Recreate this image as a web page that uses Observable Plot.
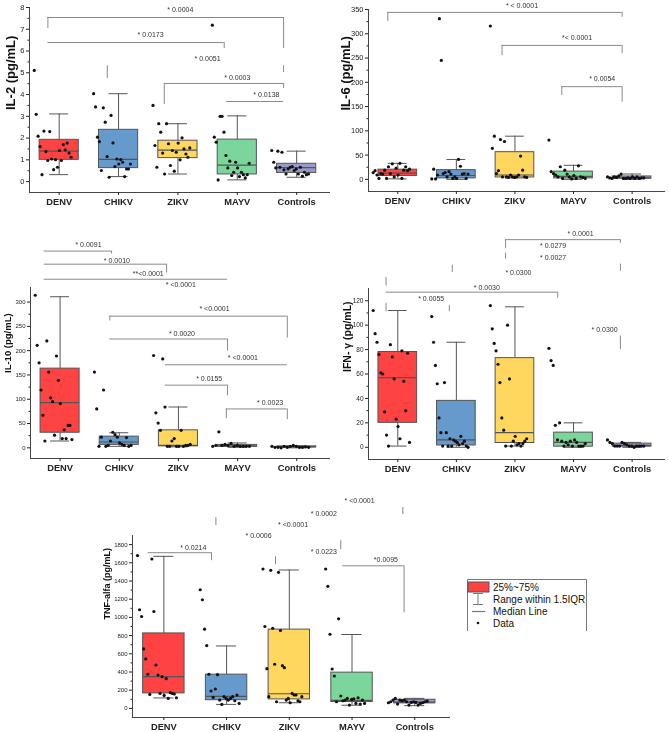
<!DOCTYPE html>
<html>
<head>
<meta charset="utf-8">
<script src="https://cdn.jsdelivr.net/npm/d3@7"></script>
<script src="https://cdn.jsdelivr.net/npm/@observablehq/plot@0.6"></script>
<style>
  html, body { margin: 0; padding: 0; background: #fff; }
  #fig { position: relative; width: 669px; height: 732px; overflow: hidden; font-family: "Liberation Sans", Arial, sans-serif; }
  .panel { position: absolute; will-change: transform; }
  .panel svg { overflow: visible; }
</style>
</head>
<body>
<div id="fig"></div>
<script>
// Groups and their box colours
const groups = ["DENV", "CHIKV", "ZIKV", "MAYV", "Controls"];
const groupFills = ["#ff4242", "#6699cc", "#ffd65e", "#7bd69b", "#9b9bc9"];

// ---------- IL-2 (pg/mL) ----------
const il2Values = [
  [5.11, 3.09, 2.09, 1.61, 0.32, 2.32, 1.38, 0.97, 2.30, 1.04, 0.55, 1.01, 0.66, 1.43, 0.97, 1.70, 1.46, 1.77, 1.31, 1.12],
  [4.04, 3.43, 2.04, 1.84, 0.51, 3.39, 2.73, 1.15, 0.20, 3.04, 1.78, 0.69, 1.04, 0.81, 1.01, 0.89, 0.23, 0.58, 0.58, 0.81],
  [3.50, 1.66, 0.66, 2.66, 2.27, 1.31, 0.35, 2.66, 1.74, 0.74, 1.43, 0.48, 1.35, 1.77, 1.00, 2.01, 1.50, 1.27, 1.12, 1.55],
  [7.19, 2.04, 1.81, 0.08, 3.00, 3.00, 2.27, 1.20, 0.63, 0.94, 0.28, 0.43, 0.89, 0.63, 0.23, 0.43, 0.32, 0.17, 0.32, 0.84],
  [1.43, 0.89, 0.63, 1.40, 0.66, 1.35, 0.54, 0.35, 0.58, 0.66, 0.69, 0.51, 0.58, 0.35, 0.66, 0.25, 0.43, 0.32, 0.35]
];
const il2Low    = [0.32, 0.23, 0.35, 0.08, 0.20];
const il2Q1     = [1.00, 0.62, 1.08, 0.33, 0.40];
const il2Median = [1.40, 1.02, 1.45, 0.76, 0.64];
const il2Q3     = [1.92, 2.38, 1.88, 1.93, 0.82];
const il2High   = [3.11, 4.04, 2.66, 3.02, 1.40];
const il2Ticks = [0, 1, 2, 3, 4, 5, 6, 7, 8];
const il2Labels = [
  {text: "* 0.0004", x: 2.04, y: 7.9},
  {text: "* 0.0173", x: 1.54, y: 6.76},
  {text: "* 0.0051", x: 2.5, y: 5.66},
  {text: "* 0.0003", x: 3.0, y: 4.78},
  {text: "* 0.0138", x: 3.49, y: 4.0}
];
const il2Spans = [
  {x1: -0.19, x2: 3.78, y: 7.54},
  {x1: -0.19, x2: 2.78, y: 6.39},
  {x1: 1.77, x2: 3.78, y: 4.51},
  {x1: 2.82, x2: 3.78, y: 3.68}
];
const il2Legs = [
  {x: -0.19, y1: 7.54, y2: 7.03},
  {x: 3.78, y1: 7.54, y2: 6.11},
  {x: 2.78, y1: 6.39, y2: 6.11},
  {x: 0.81, y1: 5.33, y2: 4.74},
  {x: 3.78, y1: 5.33, y2: 5.01},
  {x: 1.77, y1: 4.51, y2: 3.54},
  {x: 3.78, y1: 4.51, y2: 4.28}
];

// ---------- IL-6 (pg/mL) ----------
const il6Values = [
  [14, 18, 9, 2, 12, 11, 19, 2, 26, 12, 32, 5, 23, 9, 33, 2, 19, 26, 18, 21],
  [1, 21, 1, 9, 331, 245, 12, 14, 5, 16, 11, 2, 5, 2, 41, 27, 11, 12, 2, 11],
  [316, 64, 89, 12, 18, 82, 5, 78, 5, 4, 9, 5, 4, 5, 9, 48, 19, 5, 4],
  [81, 16, 12, 9, 5, 26, 2, 19, 11, 5, 1, 8, 2, 28, 5, 4, 2],
  [5, 3, 2, 5, 4, 7, 11, 2, 2, 3, 2, 5, 2, 5, 2, 3, 3]
];
const il6Low    = [1, 0, 3, 0, 0];
const il6Q1     = [7, 2, 4, 2, 1.5];
const il6Median = [13, 8, 9, 6, 3];
const il6Q3     = [20, 19, 56, 16, 6];
const il6High   = [33, 41, 89, 29, 11];
const il6Ticks = [0, 50, 100, 150, 200, 250, 300, 350];
const il6Labels = [
  {text: "* < 0.0001", x: 2.12, y: 358},
  {text: "*< 0.0001", x: 3.06, y: 292},
  {text: "* 0.0054", x: 3.49, y: 208}
];
const il6Spans = [
  {x1: -0.17, x2: 3.83, y: 344},
  {x1: 1.78, x2: 3.83, y: 276},
  {x1: 2.80, x2: 3.83, y: 191}
];
const il6Legs = [
  {x: -0.17, y1: 344, y2: 325},
  {x: 3.83, y1: 344, y2: 334},
  {x: 1.78, y1: 276, y2: 255},
  {x: 3.83, y1: 276, y2: 259},
  {x: 2.80, y1: 191, y2: 173},
  {x: 3.83, y1: 191, y2: 159}
];

// ---------- IL-10 (pg/mL) ----------
const il10Values = [
  [314, 211, 175, 119, 67, 14, 220, 156, 103, 95, 26, 189, 139, 91, 19, 37, 19, 46, 46, 17],
  [156, 80, 3, 22, 119, 3, 5, 14, 32, 27, 22, 10, 7, 5, 21, 3, 5],
  [190, 72, 51, 36, 183, 84, 3, 3, 14, 19, 3, 3, 36, 3, 5, 5, 7],
  [3, 5, 33, 5, 7, 5, 9, 3, 5, 3, 3, 3, 3],
  [3, 1, 1, 0, 3, 1, 3, 5, 3, 1, 1, 2, 1]
];
const il10Low    = [14, 3, 2, 1, 0];
const il10Q1     = [31, 6, 3, 2, 1];
const il10Median = [93, 12, 5, 4, 2];
const il10Q3     = [163, 23, 36, 6, 3];
const il10High   = [311, 31, 84, 10, 4];
const il10Ticks = [0, 50, 100, 150, 200, 250, 300];
const il10Labels = [
  {text: "* 0.0091", x: 0.48, y: 417},
  {text: "* 0.0010", x: 0.96, y: 386},
  {text: "**<0.0001", x: 1.49, y: 358},
  {text: "* <0.0001", x: 2.04, y: 335},
  {text: "* <0.0001", x: 2.61, y: 286},
  {text: "* 0.0020", x: 2.06, y: 234},
  {text: "* <0.0001", x: 3.09, y: 185},
  {text: "* 0.0155", x: 2.52, y: 142},
  {text: "* 0.0023", x: 3.55, y: 92}
];
const il10Spans = [
  {x1: -0.27, x2: 0.87, y: 405},
  {x1: -0.27, x2: 1.80, y: 378},
  {x1: -0.27, x2: 2.83, y: 347},
  {x1: 0.84, x2: 3.84, y: 271},
  {x1: 0.84, x2: 2.83, y: 224},
  {x1: 1.78, x2: 3.84, y: 171},
  {x1: 1.78, x2: 2.83, y: 129},
  {x1: 2.81, x2: 3.84, y: 80}
];
const il10Legs = [
  {x: 0.87, y1: 405, y2: 399},
  {x: 1.80, y1: 378, y2: 360},
  {x: 0.84, y1: 271, y2: 261},
  {x: 3.84, y1: 271, y2: 226},
  {x: 2.83, y1: 224, y2: 199},
  {x: 2.83, y1: 129, y2: 107},
  {x: 2.81, y1: 80, y2: 60},
  {x: 3.84, y1: 80, y2: 58}
];

// ---------- IFN-γ (pg/mL) ----------
const ifnValues = [
  [112, 93, 86, 76, 61, 60, 29, 10, 1, 84, 74, 56, 23, 17, 7, 79, 54, 30, 77, 4],
  [107, 86, 67, 52, 24, 12, 1, 53, 12, 1, 7, 1, 6, 5, 4, 2, 9, 3, 5, 1, 0],
  [116, 97, 85, 79, 68, 53, 24, 14, 1, 100, 56, 1, 5, 9, 2, 3, 1, 3, 5, 7],
  [81, 71, 67, 18, 6, 20, 5, 1, 4, 2, 5, 1, 6, 4, 1, 1, 1, 3],
  [6, 4, 3, 1, 1, 1, 4, 3, 2, 1, 1, 0, 1, 1, 1, 1]
];
const ifnLow    = [1, 0, 1, 0, 0];
const ifnQ1     = [20, 1.5, 3.5, 0.5, 0.5];
const ifnMedian = [57, 6, 12, 4, 1.5];
const ifnQ3     = [78, 38, 73, 12, 3];
const ifnHigh   = [112, 86, 115, 20, 4];
const ifnTicks = [0, 20, 40, 60, 80, 100, 120];
const ifnLabels = [
  {text: "* 0.0001", x: 3.12, y: 175},
  {text: "* 0.0279", x: 2.65, y: 165},
  {text: "* 0.0027", x: 2.65, y: 155},
  {text: "* 0.0300", x: 2.06, y: 143},
  {text: "* 0.0030", x: 1.52, y: 131},
  {text: "* 0.0055", x: 0.57, y: 122},
  {text: "* 0.0300", x: 3.53, y: 96}
];
const ifnSpans = [
  {x1: 1.84, x2: 3.80, y: 170},
  {x1: -0.20, x2: 2.73, y: 127}
];
const ifnLegs = [
  {x: 1.84, y1: 170, y2: 163},
  {x: 3.80, y1: 170, y2: 167},
  {x: 1.84, y1: 159, y2: 154},
  {x: 0.93, y1: 149, y2: 143},
  {x: 3.80, y1: 150, y2: 144},
  {x: -0.20, y1: 139, y2: 132},
  {x: 2.73, y1: 127, y2: 122},
  {x: -0.20, y1: 118, y2: 111},
  {x: 0.88, y1: 116, y2: 111},
  {x: 3.80, y1: 91, y2: 80}
];

// ---------- TNF-alfa (pg/mL) ----------
const tnfValues = [
  [1679, 1084, 1010, 654, 544, 375, 154, 1642, 1065, 477, 367, 165, 349, 143, 327, 110, 173, 165, 158, 117],
  [1304, 1194, 871, 690, 375, 191, 121, 213, 371, 92, 44, 129, 110, 92, 110, 129, 84, 147, 55],
  [1532, 900, 437, 129, 1517, 881, 485, 73, 1495, 856, 470, 448, 92, 110, 62, 165, 147, 147, 84, 73, 129],
  [1532, 1341, 815, 433, 356, 73, 984, 136, 84, 92, 110, 37, 99, 106, 55, 117, 48, 92, 55],
  [62, 73, 92, 110, 48, 92, 84, 92, 73, 37, 66, 73, 66, 37, 55, 62, 73, 81]
];
const tnfLow    = [115, 44, 62, 35, 30];
const tnfQ1     = [165, 90, 99, 70, 55];
const tnfMedian = [349, 132, 161, 88, 70];
const tnfQ3     = [824, 371, 866, 393, 95];
const tnfHigh   = [1671, 686, 1521, 812, 110];
const tnfTicks = [0, 200, 400, 600, 800, 1000, 1200, 1400, 1600, 1800];
const tnfLabels = [
  {text: "* <0.0001", x: 3.12, y: 2285},
  {text: "* 0.0002", x: 2.55, y: 2141},
  {text: "* <0.0001", x: 2.06, y: 2020},
  {text: "* 0.0006", x: 1.51, y: 1898},
  {text: "* 0.0214", x: 0.47, y: 1766},
  {text: "* 0.0223", x: 2.55, y: 1722},
  {text: "*0.0095", x: 3.54, y: 1634}
];
const tnfSpans = [
  {x1: -0.25, x2: 0.76, y: 1711},
  {x1: 2.85, x2: 3.83, y: 1567}
];
const tnfLegs = [
  {x: 3.81, y1: 2208, y2: 2130},
  {x: 0.83, y1: 2097, y2: 2009},
  {x: 0.76, y1: 1711, y2: 1623},
  {x: 1.78, y1: 1667, y2: 1578},
  {x: 2.82, y1: 1843, y2: 1744},
  {x: 3.83, y1: 1567, y2: 1049}
];

// Draws one box-plot panel with jittered points and significance brackets
function boxPanel(cfg) {
  const hw = 0.33;   // half box width (category units)
  const cw = 0.16;   // half whisker-cap width
  const boxes = groups.map((name, g) => ({
    g, name, fill: groupFills[g],
    low: cfg.low[g], q1: cfg.q1[g], median: cfg.median[g], q3: cfg.q3[g], high: cfg.high[g]
  }));
  // points spread left-to-right across the category in listed order
  const points = cfg.values.flatMap((vals, g) =>
    vals.map((v, k) => ({g, v, jx: g - 0.42 + 0.62 * k / (vals.length - 1)})));
  const [y0, y1] = cfg.yDomain;
  const minorTicks = cfg.ticks.slice(0, -1).map((t, i) => (t + cfg.ticks[i + 1]) / 2);
  const gray = "#8a8a8a";

  const svg = Plot.plot({
    width: cfg.width,
    height: cfg.height,
    marginLeft: cfg.marginLeft,
    marginRight: cfg.marginRight,
    marginTop: cfg.marginTop,
    marginBottom: cfg.marginBottom,
    x: {domain: [-0.5, 4.57]},
    y: {domain: cfg.yDomain},
    color: {type: "identity"},
    style: {fontFamily: '"Liberation Sans", Arial, sans-serif', background: "transparent", color: "#222", overflow: "visible"},
    marks: [
      // whiskers and caps
      Plot.ruleX(boxes, {x: "g", y1: "q3", y2: "high", stroke: "#555"}),
      Plot.ruleX(boxes, {x: "g", y1: "low", y2: "q1", stroke: "#555"}),
      Plot.ruleY(boxes, {x1: d => d.g - cw, x2: d => d.g + cw, y: "high", stroke: "#555"}),
      Plot.ruleY(boxes, {x1: d => d.g - cw, x2: d => d.g + cw, y: "low", stroke: "#555"}),
      // interquartile boxes
      Plot.rect(boxes, {x1: d => d.g - hw, x2: d => d.g + hw, y1: "q1", y2: "q3", fill: "fill", stroke: "#555", strokeWidth: 1}),
      Plot.ruleY(boxes, {x1: d => d.g - hw, x2: d => d.g + hw, y: "median", stroke: "#555", strokeWidth: 1.2}),
      // raw data
      Plot.dot(points, {x: "jx", y: "v", r: 1.6, fill: "#111", stroke: "none"}),
      // axes
      Plot.ruleY([y0], {stroke: "#444"}),
      Plot.ruleX([-0.5], {y1: y0, y2: y1, stroke: "#444"}),
      Plot.axisY({ticks: cfg.ticks, tickFormat: d => String(d), tickSize: 3, tickPadding: 2, fontSize: cfg.tickFont, label: null}),
      Plot.axisY({ticks: minorTicks, tickSize: 1.5, tickFormat: () => "", label: null}),
      Plot.axisX({ticks: [0, 1, 2, 3, 4], tickFormat: i => groups[i], tickSize: 3, tickPadding: 3,
                  fontSize: 9.3, fontWeight: "bold", label: null}),
      Plot.text([cfg.title], {frameAnchor: "left", rotate: -90, dx: cfg.titleX - cfg.marginLeft, dy: cfg.titleDy,
                              fontSize: cfg.titleFont, fontWeight: "bold", fill: "#111"}),
      // significance brackets
      Plot.ruleY(cfg.spans, {x1: "x1", x2: "x2", y: "y", stroke: gray}),
      Plot.ruleX(cfg.legs, {x: "x", y1: "y1", y2: "y2", stroke: gray}),
      Plot.text(cfg.labels, {x: "x", y: "y", text: "text", fontSize: 7, fill: "#333"})
    ]
  });
  const div = document.createElement("div");
  div.className = "panel";
  div.style.left = cfg.left + "px";
  div.style.top = cfg.top + "px";
  div.appendChild(svg);
  document.getElementById("fig").appendChild(div);
}

boxPanel({
  title: "IL-2 (pg/mL)", values: il2Values, low: il2Low, q1: il2Q1, median: il2Median, q3: il2Q3, high: il2High,
  ticks: il2Ticks, labels: il2Labels, spans: il2Spans, legs: il2Legs,
  yDomain: [-0.5, 8], left: 0, top: 0, width: 335, height: 215,
  marginLeft: 29, marginRight: 5, marginTop: 7, marginBottom: 23,
  tickFont: 7.5, titleFont: 13, titleX: 10, titleDy: 10
});
boxPanel({
  title: "IL-6 (pg/mL)", values: il6Values, low: il6Low, q1: il6Q1, median: il6Median, q3: il6Q3, high: il6High,
  ticks: il6Ticks, labels: il6Labels, spans: il6Spans, legs: il6Legs,
  yDomain: [-25, 350], left: 335, top: 0, width: 334, height: 215,
  marginLeft: 33, marginRight: 4, marginTop: 9, marginBottom: 24,
  tickFont: 7.5, titleFont: 13, titleX: 10, titleDy: 10
});
boxPanel({
  title: "IL-10 (pg/mL)", values: il10Values, low: il10Low, q1: il10Q1, median: il10Median, q3: il10Q3, high: il10High,
  ticks: il10Ticks, labels: il10Labels, spans: il10Spans, legs: il10Legs,
  yDomain: [-22, 330], left: 0, top: 220, width: 335, height: 255,
  marginLeft: 30, marginRight: 5, marginTop: 67, marginBottom: 17,
  tickFont: 6, titleFont: 9.5, titleX: 7, titleDy: 0
});
boxPanel({
  title: "IFN- γ (pg/mL)", values: ifnValues, low: ifnLow, q1: ifnQ1, median: ifnMedian, q3: ifnQ3, high: ifnHigh,
  ticks: ifnTicks, labels: ifnLabels, spans: ifnSpans, legs: ifnLegs,
  yDomain: [-10, 130], left: 335, top: 220, width: 334, height: 255,
  marginLeft: 33, marginRight: 4, marginTop: 68, marginBottom: 16,
  tickFont: 6.5, titleFont: 10.5, titleX: 12, titleDy: -2
});
boxPanel({
  title: "TNF-alfa (pg/mL)", values: tnfValues, low: tnfLow, q1: tnfQ1, median: tnfMedian, q3: tnfQ3, high: tnfHigh,
  ticks: tnfTicks, labels: tnfLabels, spans: tnfSpans, legs: tnfLegs,
  yDomain: [-100, 1900], left: 100, top: 470, width: 360, height: 262,
  marginLeft: 32, marginRight: 10, marginTop: 65, marginBottom: 15,
  tickFont: 6, titleFont: 9, titleX: 7, titleDy: -7
});

// Legend explaining the box-plot elements
const legendItems = ["25%~75%", "Range within 1.5IQR", "Median Line", "Data"];
const legend = d3.create("svg").attr("width", 122).attr("height", 54)
  .style("position", "absolute").style("left", "466px").style("top", "578px")
  .style("font-family", '"Liberation Sans", Arial, sans-serif');
legend.append("path").attr("d", "M1.5,53V1.5H120.5V53").attr("fill", "none").attr("stroke", "#777");
legend.append("rect").attr("x", 2).attr("y", 4).attr("width", 21).attr("height", 10)
  .attr("fill", groupFills[0]).attr("stroke", "#555");
legend.append("path").attr("d", "M12,15.5V26.5M7,15.5H17M7,26.5H17").attr("stroke", "#777").attr("fill", "none");
legend.append("path").attr("d", "M6,33.5H19").attr("stroke", "#777").attr("stroke-width", 1.2);
legend.append("circle").attr("cx", 12).attr("cy", 45).attr("r", 1.3).attr("fill", "#111");
legend.selectAll("text.item").data(legendItems).join("text")
  .attr("class", "item").attr("x", 27).attr("y", (d, i) => 13 + i * 12)
  .attr("font-size", 10).attr("fill", "#111").text(d => d);
document.getElementById("fig").appendChild(legend.node());
</script>
</body>
</html>
